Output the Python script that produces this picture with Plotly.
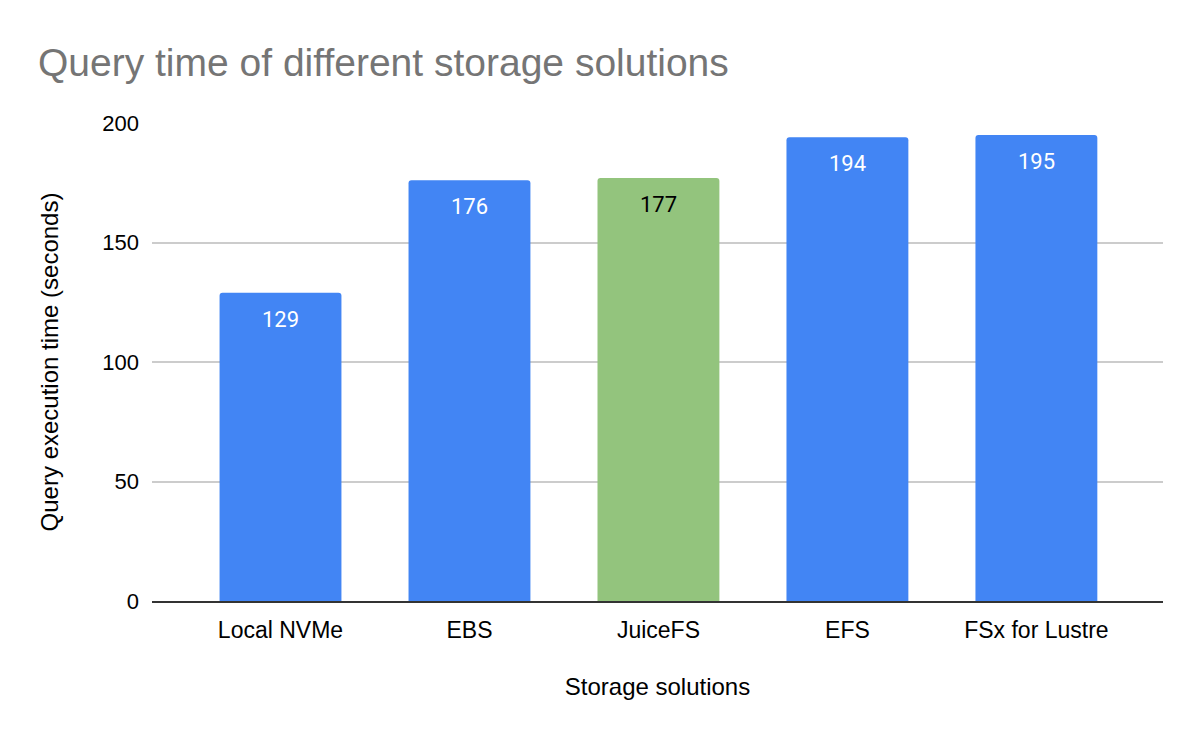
import plotly.graph_objects as go

# chart data
storage = ["Local NVMe", "EBS", "JuiceFS", "EFS", "FSx for Lustre"]
query_seconds = [129, 176, 177, 194, 195]
bar_colors = ["#4285f4", "#4285f4", "#93c47d", "#4285f4", "#4285f4"]
label_colors = ["#ffffff", "#ffffff", "#000000", "#ffffff", "#ffffff"]
y_ticks = [0, 50, 100, 150, 200]

fig = go.Figure()
fig.add_trace(go.Bar(
    x=storage,
    y=query_seconds,
    marker=dict(color=bar_colors, line=dict(width=0), cornerradius=3),
    width=0.645,
    hoverinfo="x+y",
))

# value labels sit just inside the top of each bar
for name, val, col in zip(storage, query_seconds, label_colors):
    fig.add_annotation(
        x=name, y=val, text=str(val), showarrow=False,
        yanchor="top", yshift=-12,
        font=dict(family="Roboto", size=22, color=col),
    )

# page body has an 8px margin, so the margins below are offset by that
fig.update_layout(
    width=1200, height=742,
    paper_bgcolor="white", plot_bgcolor="white",
    margin=dict(l=144, r=45, t=115, b=149),
    showlegend=False,
    font=dict(family="Arial", size=22, color="#000000"),
    title=dict(
        text="Query time of different storage solutions",
        x=0.025, xanchor="left", y=0.927, yanchor="middle",
        font=dict(family="Arial", size=39, color="#757575"),
    ),
    xaxis=dict(
        range=[-0.68, 4.67],
        showgrid=False,
        showline=True, linecolor="#333333", linewidth=2,
        ticks="", tickfont=dict(size=23),
        ticklabelstandoff=7,
        title=dict(text="Storage solutions", standoff=37, font=dict(size=24)),
    ),
    yaxis=dict(
        range=[0, 200],
        tickvals=y_ticks,
        showgrid=True, gridcolor="#cccccc", gridwidth=1.5,
        zeroline=False, showline=False, ticks="",
        ticklabelstandoff=12,
        tickfont=dict(size=22),
        title=dict(text="Query execution time (seconds)", standoff=36, font=dict(size=24)),
    ),
)

fig.write_html("out.html")
